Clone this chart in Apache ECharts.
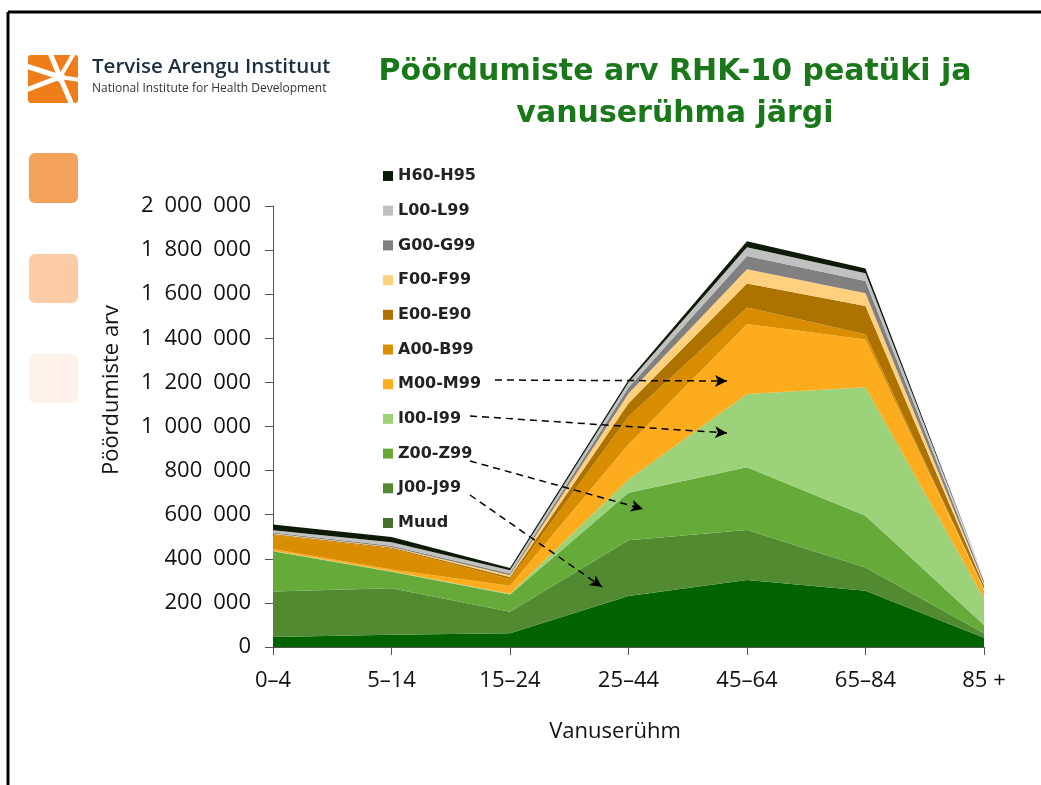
<!DOCTYPE html>
<html>
<head>
<meta charset="utf-8">
<title>Pöördumiste arv</title>
<script src="https://cdn.jsdelivr.net/npm/echarts@6/dist/echarts.min.js"></script>
<style>
  html, body { margin: 0; padding: 0; background: #fff; }
  #main { width: 1041px; height: 785px; }
</style>
</head>
<body>
<div id="main"></div>
<script>
  // vanuserühmad
  var ageGroups = ['0–4', '5–14', '15–24', '25–44', '45–64', '65–84', '85 +']

  // pöördumiste arv RHK-10 peatükkide kaupa (alt üles)
  var muud = [45000, 56000, 62000, 231000, 304000, 255000, 42000]
  var j00 = [207000, 210000, 98000, 253000, 227000, 106000, 20000]
  var z00 = [182000, 75000, 78000, 216000, 284000, 234000, 38000]
  var i00 = [3000, 3000, 3000, 60000, 332000, 583000, 121000]
  var m00 = [7000, 8000, 37000, 160000, 318000, 217000, 37000]
  var a00 = [65000, 95000, 30000, 125000, 75000, 23000, 5000]
  var e00 = [3000, 4000, 10000, 60000, 109000, 128000, 15000]
  var f00 = [3000, 3000, 7000, 45000, 64000, 58000, 8000]
  var g00 = [4000, 5000, 8000, 27000, 60000, 56000, 12000]
  var l00 = [11000, 16000, 15000, 22000, 40000, 35000, 8000]
  var h60 = [26000, 24000, 10000, 12000, 27000, 22000, 5000]

  var seriesNames = ['Muud', 'J00-J99', 'Z00-Z99', 'I00-I99', 'M00-M99', 'A00-B99', 'E00-E90', 'F00-F99', 'G00-G99', 'L00-L99', 'H60-H95']
  var seriesData = [muud, j00, z00, i00, m00, a00, e00, f00, g00, l00, h60]
  var seriesColors = ['#006300', '#518a31', '#66aa3a', '#9cd27a', '#fcac1c', '#d98d00', '#ae7200', '#ffd17f', '#808080', '#c0c0c0', '#0d1a08']

  var yTicks = { min: 0, max: 2000000, interval: 200000 }

  function fmt (v) {
    return String(v).replace(/\B(?=(\d{3})+(?!\d))/g, '\u2002')
  }

  var myChart = echarts.init(document.getElementById('main'), null, { renderer: 'canvas' })

  var series = seriesNames.map(function (name, i) {
    return {
      name: name,
      type: 'line',
      stack: 'total',
      data: seriesData[i],
      showSymbol: false,
      symbol: 'none',
      silent: true,
      lineStyle: { width: 0 },
      itemStyle: { color: seriesColors[i] },
      areaStyle: { color: seriesColors[i], opacity: 1 },
      z: 2
    }
  })

  // nooled legendist aladeni
  series[0].markLine = {
    silent: true,
    symbol: ['none', 'arrow'],
    symbolSize: [9, 12],
    label: { show: false },
    lineStyle: { color: '#000', type: [7, 5], width: 1.5 },
    z: 10,
    data: [
      [{ x: 495, y: 380 }, { x: 727, y: 381 }],
      [{ x: 470, y: 416 }, { x: 727, y: 433 }],
      [{ x: 470, y: 461 }, { x: 643, y: 509 }],
      [{ x: 470, y: 495 }, { x: 602, y: 587 }]
    ]
  }

  var legendData = seriesNames.slice().reverse().map(function (n) {
    var item = { name: n }
    if (n === 'Muud') item.itemStyle = { color: '#44702a' }
    return item
  })

  var option = {
    animation: false,
    backgroundColor: '#fff',
    title: {
      text: 'Pöördumiste arv RHK-10 peatüki ja\nvanuserühma järgi',
      left: 670,
      top: 46,
      textAlign: 'center',
      textStyle: {
        fontFamily: 'DejaVu Sans',
        fontWeight: 'bold',
        fontSize: 30,
        lineHeight: 42,
        color: '#1a781a'
      }
    },
    legend: {
      orient: 'vertical',
      left: 378,
      top: 162,
      itemWidth: 10,
      itemHeight: 10,
      itemGap: 16.7,
      icon: 'rect',
      selectedMode: false,
      data: legendData,
      textStyle: {
        fontFamily: 'DejaVu Sans',
        fontWeight: 'bold',
        fontSize: 16,
        lineHeight: 18,
        color: '#222'
      }
    },
    grid: {
      left: 273,
      right: 57,
      top: 206,
      bottom: 138
    },
    xAxis: {
      type: 'category',
      boundaryGap: false,
      data: ageGroups,
      axisLine: { lineStyle: { color: '#555', width: 1 } },
      axisTick: { show: true, length: 8, alignWithLabel: true, lineStyle: { color: '#555' } },
      axisLabel: { margin: 23, fontFamily: 'Open Sans', fontSize: 22, color: '#111' },
      splitLine: { show: false }
    },
    yAxis: {
      type: 'value',
      min: yTicks.min,
      max: yTicks.max,
      interval: yTicks.interval,
      axisLine: { show: true, lineStyle: { color: '#555', width: 1 } },
      axisTick: { show: true, length: 8, lineStyle: { color: '#555' } },
      axisLabel: { margin: 22, fontFamily: 'Open Sans', fontSize: 22, color: '#111', formatter: fmt },
      splitLine: { show: false }
    },
    graphic: [
      // raam
      { type: 'line', shape: { x1: 8, y1: 12, x2: 1041, y2: 12 }, style: { stroke: '#000', lineWidth: 3 } },
      { type: 'line', shape: { x1: 8, y1: 12, x2: 8, y2: 785 }, style: { stroke: '#000', lineWidth: 3 } },
      // logo
      { type: 'rect', shape: { x: 28, y: 55, width: 50, height: 48, r: 3 }, style: { fill: '#ee7d1a' } },
      { type: 'polyline', shape: { points: [[26, 66], [60, 77]] }, style: { stroke: '#fff', lineWidth: 5 } },
      { type: 'polyline', shape: { points: [[50, 53], [60, 77]] }, style: { stroke: '#fff', lineWidth: 5 } },
      { type: 'polyline', shape: { points: [[74, 53], [60, 77]] }, style: { stroke: '#fff', lineWidth: 4 } },
      { type: 'polyline', shape: { points: [[80, 80], [60, 77]] }, style: { stroke: '#fff', lineWidth: 4 } },
      { type: 'polyline', shape: { points: [[72, 105], [60, 77]] }, style: { stroke: '#fff', lineWidth: 5 } },
      { type: 'polyline', shape: { points: [[26, 90], [60, 77]] }, style: { stroke: '#fff', lineWidth: 5 } },
      { type: 'circle', shape: { cx: 60, cy: 77, r: 5 }, style: { fill: '#fff' } },
      {
        type: 'text', left: 92, top: 57,
        style: { text: 'Tervise Arengu Instituut', fontFamily: 'Open Sans', fontWeight: 600, fontSize: 20.5, fill: '#1c2e42' }
      },
      {
        type: 'text', left: 92, top: 83,
        style: { text: 'National Institute for Health Development', fontFamily: 'Open Sans', fontSize: 12, fill: '#333' }
      },
      // kaunistused vasakul
      { type: 'rect', shape: { x: 29, y: 153, width: 49, height: 50, r: 6 }, style: { fill: '#f4a25a' } },
      { type: 'rect', shape: { x: 29, y: 254, width: 49, height: 49, r: 6 }, style: { fill: '#fbcca5' } },
      { type: 'rect', shape: { x: 29, y: 354, width: 49, height: 49, r: 6 }, style: { fill: '#fef2ea' } },
      // telgede nimed
      {
        type: 'text', x: 112, y: 390, rotation: Math.PI / 2,
        style: { text: 'Pöördumiste arv', fontFamily: 'Open Sans', fontSize: 22, fill: '#111', align: 'center', verticalAlign: 'middle' }
      },
      {
        type: 'text', x: 615, y: 732,
        style: { text: 'Vanuserühm', fontFamily: 'Open Sans', fontSize: 22, fill: '#111', align: 'center', verticalAlign: 'middle' }
      }
    ],
    series: series
  }

  myChart.setOption(option, true)
</script>
</body>
</html>
